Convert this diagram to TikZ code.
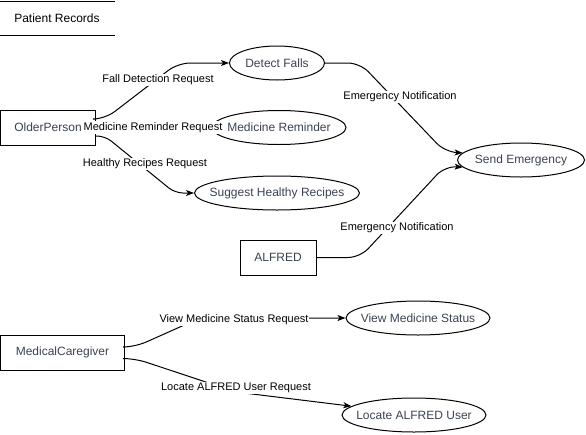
\documentclass[tikz,border=0pt]{standalone}
\usepackage{fontspec}
\setmainfont{Liberation Sans}
\usetikzlibrary{shapes.geometric,arrows.meta}
\definecolor{nodetext}{HTML}{3A4252}
% keep the ellipse size fixed by its minimum width, not by its text
\newcommand{\proctext}[1]{\makebox[0pt]{#1}}

\begin{document}
\begin{tikzpicture}[x=1pt, y=-1pt, line width=1pt,
    proc/.style = {draw, ellipse, minimum height=34pt, inner sep=0pt, text=nodetext, font=\fontsize{12}{14}\selectfont},
    ent/.style = {draw, rectangle, minimum height=35pt, inner sep=0pt, text=nodetext, font=\fontsize{12}{14}\selectfont},
    lbl/.style = {fill=white, inner sep=1pt, font=\fontsize{11}{13}\selectfont},
    flow/.style = {-{Stealth[length=8pt,width=6pt,inset=2pt]}, rounded corners=12pt}]
    \useasboundingbox (0,0) rectangle (586,434);
    % data store
    \node[text=black, font=\fontsize{12}{14}\selectfont] (records) at (57,18) {Patient Records};
    \draw (0,1) -- (115,1);
    \draw (0,35) -- (115,35);
    % entities and processes
    \node[ent, minimum width=95pt] (older) at (48,127.5) {OlderPerson};
    \node[proc, minimum width=95pt] (falls) at (277,63) {\proctext{Detect Falls}};
    \node[proc, minimum width=134pt] (remind) at (279,127.5) {\proctext{Medicine Reminder}};
    \node[proc, minimum width=165pt] (recipes) at (277,193) {\proctext{Suggest Healthy Recipes}};
    \node[proc, minimum width=127pt] (emerg) at (521,160) {\proctext{Send Emergency}};
    \node[ent, minimum width=76pt] (alfred) at (278,257.5) {ALFRED};
    \node[ent, minimum width=124pt] (carer) at (62.5,352.5) {MedicalCaregiver};
    \node[proc, minimum width=144pt] (status) at (418,318) {\proctext{View Medicine Status}};
    \node[proc, minimum width=144pt] (locate) at (414,415) {\proctext{Locate ALFRED User}};
    % flows
    \draw[flow] ([yshift=8.5pt]older.east) -- ++(9,0) -- (178,63) -- (falls.west);
    \draw[flow] (older) -- (remind);
    \draw[flow, rounded corners=8pt] ([yshift=-8.5pt]older.east) -- ++(9,0) -- (175,193) -- (recipes.west);
    \draw[flow] (falls.east) -- (360,63) -- (445,152) -- (emerg.173);
    \draw[flow] (alfred.east) -- (360,257.5) -- (445,166) -- (emerg.187);
    \draw[flow] ([yshift=5.5pt]carer.east) -- ++(10,0) -- (200,318) -- (status.west);
    \draw[flow] ([yshift=-6pt]carer.east) -- ++(10,0) -- (236,392) -- (locate.172);
    % flow labels
    \node[lbl] at (158,80) {Fall Detection Request};
    \node[lbl] at (153,127.5) {Medicine Reminder Request};
    \node[lbl] at (145,164) {Healthy Recipes Request};
    \node[lbl] at (400,97) {Emergency Notification};
    \node[lbl] at (397,228) {Emergency Notification};
    \node[lbl] at (234,320) {View Medicine Status Request};
    \node[lbl] at (236,388) {Locate ALFRED User Request};
\end{tikzpicture}
\end{document}
